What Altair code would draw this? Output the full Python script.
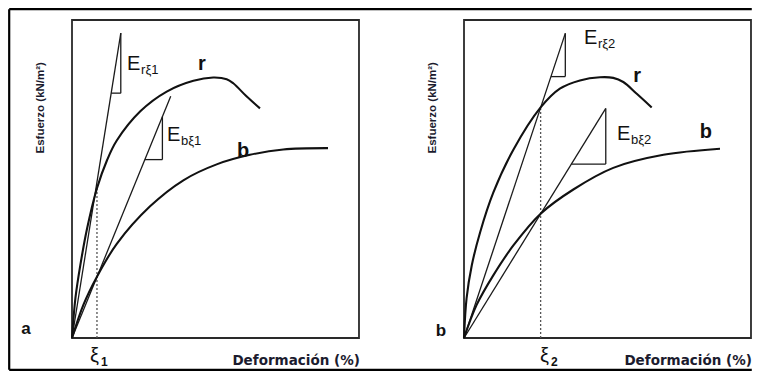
import altair as alt
import pandas as pd

# ---------------- data (box units: strain 0-100, stress 0-100) ----------------
# panel a
A_R_X = [0, 1.2, 2.9, 5.2, 8.7, 12.2, 15.6, 23.8, 33.0, 42.3, 49.2, 53.9, 56.2, 60.8, 65.5]
A_R_Y = [0, 12.6, 22.9, 34.2, 47.1, 55.9, 62.1, 71.3, 77.5, 80.9, 81.9, 81.4, 80.1, 76.0, 72.2]
A_B_X = [0, 4.0, 8.7, 15.6, 27.2, 38.8, 50.4, 62.0, 73.6, 89.2]
A_B_Y = [0, 10.5, 19.3, 29.6, 41.4, 49.6, 54.6, 57.6, 59.3, 59.7]
# panel b
B_R_X = [0, 0.9, 2.7, 5.6, 10.2, 17.2, 26.7, 33.4, 40.4, 47.4, 52.0, 55.5, 60.2, 65.4]
B_R_Y = [0, 12.5, 22.8, 33.2, 45.7, 59.2, 72.5, 78.4, 81.0, 82.0, 81.8, 80.5, 76.8, 72.5]
B_B_X = [0, 4.4, 10.2, 17.2, 26.7, 38.1, 52.0, 69.5, 89.2]
B_B_Y = [0, 10.4, 19.7, 29.1, 39.1, 46.7, 53.5, 57.6, 59.5]

# strain where secant moduli are taken (xi) and stress of curve r there
A_XI, A_XI_TOP = 8.7, 47.1
B_XI, B_XI_TOP = 26.7, 72.5

# secant lines from the origin: end points
A_SEC_R = (17.0, 95.9)
A_SEC_B = (34.4, 76.0)
B_SEC_R = (35.3, 95.8)
B_SEC_B = (49.4, 72.2)

# slope triangles: (x_left, x_right, y_bottom, y_top)
A_TRI_R = (13.65, 17.0, 77.0, 95.9)
A_TRI_B = (25.4, 31.5, 56.1, 69.6)
B_TRI_R = (30.3, 35.3, 82.2, 95.8)
B_TRI_B = (37.4, 49.4, 54.7, 72.2)

# labels
A_E_LABELS = [(19.2, 84.3, "rξ1"), (33.1, 62.0, "bξ1")]
B_E_LABELS = [(41.8, 92.5, "rξ2"), (53.3, 62.3, "bξ2")]
A_CURVE_LABELS = [(45.3, 84.3, "r"), (59.6, 56.9, "b")]
B_CURVE_LABELS = [(60.3, 80.5, "r"), (84.3, 62.9, "b")]
PANEL_LABELS = {"a": (-16.0, 1.2, "a"), "b": (-8.0, 0.6, "b")}
XI_LABELS = {"a": (6.3, "1"), "b": (26.5, "2")}
X_TITLE = "Deformación (%)"
Y_TITLE = "Esfuerzo (kN/m²)"

# ---------------- layout (scale domains) ----------------
H = 363
Y_DOM = [-10.377, 103.774]
FRAME_TOP, FRAME_BOTTOM = 103.40, -10.0
PX_PER_X = 2.87
PANELS = {
    "a": dict(width=372, xdom=[-22.30, 107.32]),
    "b": dict(width=373, xdom=[-29.27, 100.70]),
}
# whole-figure frame, drawn from panel a (in panel-a strain units)
FRAME_LEFT = -22.30 + 1.2 / PX_PER_X
FRAME_RIGHT = -22.30 + 743.8 / PX_PER_X
FONT = "Liberation Sans"
INK = "#111111"


def make_panel(key, rx, ry, bx, by, xi, xi_top, sec_r, sec_b, tri_r, tri_b,
               e_labels, curve_labels):
    p = PANELS[key]
    xs = alt.Scale(domain=p["xdom"], nice=False, zero=False)
    ys = alt.Scale(domain=Y_DOM, nice=False, zero=False)

    def X(f="x"):
        return alt.X(f"{f}:Q", scale=xs, axis=None)

    def Y(f="y"):
        return alt.Y(f"{f}:Q", scale=ys, axis=None)

    layers = []
    if key == "a":
        frame = [
            dict(x=FRAME_LEFT, x2=FRAME_RIGHT, y=FRAME_TOP, y2=FRAME_TOP),
            dict(x=FRAME_LEFT, x2=FRAME_RIGHT, y=FRAME_BOTTOM, y2=FRAME_BOTTOM),
            dict(x=FRAME_LEFT, x2=FRAME_LEFT, y=FRAME_BOTTOM, y2=FRAME_TOP),
        ]
        layers.append(alt.Chart(pd.DataFrame(frame)).mark_rule(
            color="#000000", strokeWidth=2.2
        ).encode(x=X(), x2="x2:Q", y=Y(), y2="y2:Q"))

    layers.append(alt.Chart(pd.DataFrame([dict(x=0, x2=100, y=0, y2=100)])).mark_rect(
        fillOpacity=0, stroke="#2a2a2a", strokeWidth=1.8
    ).encode(x=X(), x2="x2:Q", y=Y(), y2="y2:Q"))

    layers.append(alt.Chart(pd.DataFrame([dict(x=xi, x2=xi, y=0, y2=xi_top)])).mark_rule(
        color="#555555", strokeWidth=1.3, strokeDash=[2, 2]
    ).encode(x=X(), x2="x2:Q", y=Y(), y2="y2:Q"))

    segs = [
        dict(x=0, y=0, x2=sec_r[0], y2=sec_r[1]),
        dict(x=0, y=0, x2=sec_b[0], y2=sec_b[1]),
    ]
    for t in (tri_r, tri_b):
        segs.append(dict(x=t[0], y=t[2], x2=t[1], y2=t[2]))
        segs.append(dict(x=t[1], y=t[2], x2=t[1], y2=t[3]))
    layers.append(alt.Chart(pd.DataFrame(segs)).mark_rule(
        color="#1a1a1a", strokeWidth=1.3
    ).encode(x=X(), x2="x2:Q", y=Y(), y2="y2:Q"))

    rows = []
    for name, cx, cy in (("r", rx, ry), ("b", bx, by)):
        for i, (vx, vy) in enumerate(zip(cx, cy)):
            rows.append(dict(curve=name, i=i, x=vx, y=vy))
    layers.append(alt.Chart(pd.DataFrame(rows)).mark_line(
        color="#111111", strokeWidth=2.1, interpolate="catmull-rom"
    ).encode(x=X(), y=Y(), detail="curve:N", order="i:Q"))

    e_df = pd.DataFrame([dict(x=a, y=b, t="E", s=s) for a, b, s in e_labels])
    layers.append(alt.Chart(e_df).mark_text(
        font=FONT, fontSize=20, align="left", baseline="alphabetic", color=INK
    ).encode(x=X(), y=Y(), text="t:N"))
    layers.append(alt.Chart(e_df).mark_text(
        font=FONT, fontSize=13, align="left", baseline="alphabetic", color=INK,
        dx=14, dy=4
    ).encode(x=X(), y=Y(), text="s:N"))

    c_df = pd.DataFrame([dict(x=a, y=b, t=s) for a, b, s in curve_labels])
    layers.append(alt.Chart(c_df).mark_text(
        font=FONT, fontSize=20, fontWeight="bold", align="center",
        baseline="alphabetic", color=INK
    ).encode(x=X(), y=Y(), text="t:N"))

    plx, ply, plt = PANEL_LABELS[key]
    layers.append(alt.Chart(pd.DataFrame([dict(x=plx, y=ply, t=plt)])).mark_text(
        font=FONT, fontSize=17, fontWeight="bold", align="center",
        baseline="alphabetic", color=INK
    ).encode(x=X(), y=Y(), text="t:N"))

    xix, xis = XI_LABELS[key]
    xi_df = pd.DataFrame([dict(x=xix, y=-7.5, t="ξ", s=xis)])
    layers.append(alt.Chart(xi_df).mark_text(
        font=FONT, fontSize=20, align="left", baseline="alphabetic", color=INK
    ).encode(x=X(), y=Y(), text="t:N"))
    layers.append(alt.Chart(xi_df).mark_text(
        font=FONT, fontSize=12, fontWeight="bold", align="left",
        baseline="alphabetic", color=INK, dx=11, dy=4
    ).encode(x=X(), y=Y(), text="s:N"))

    layers.append(alt.Chart(pd.DataFrame([dict(x=100.3, y=-8.5, t=X_TITLE)])).mark_text(
        font="DejaVu Sans", fontSize=13.5, fontWeight="bold", align="right",
        baseline="alphabetic", color="#1b1b2e"
    ).encode(x=X(), y=Y(), text="t:N"))

    layers.append(alt.Chart(pd.DataFrame([dict(x=-10.8, y=72.4, t=Y_TITLE)])).mark_text(
        font=FONT, fontSize=11.5, fontWeight="bold", align="center",
        baseline="middle", angle=270, color="#1b1b2e"
    ).encode(x=X(), y=Y(), text="t:N"))

    return alt.layer(*layers).properties(width=p["width"], height=H)


panel_a = make_panel("a", A_R_X, A_R_Y, A_B_X, A_B_Y, A_XI, A_XI_TOP,
                     A_SEC_R, A_SEC_B, A_TRI_R, A_TRI_B, A_E_LABELS, A_CURVE_LABELS)
panel_b = make_panel("b", B_R_X, B_R_Y, B_B_X, B_B_Y, B_XI, B_XI_TOP,
                     B_SEC_R, B_SEC_B, B_TRI_R, B_TRI_B, B_E_LABELS, B_CURVE_LABELS)

chart = alt.hconcat(panel_a, panel_b, spacing=0, bounds="flush").properties(
    padding=0, background="white"
).configure_view(strokeWidth=0)

chart.save("out.html", embed_options={"renderer": "svg", "actions": False})
